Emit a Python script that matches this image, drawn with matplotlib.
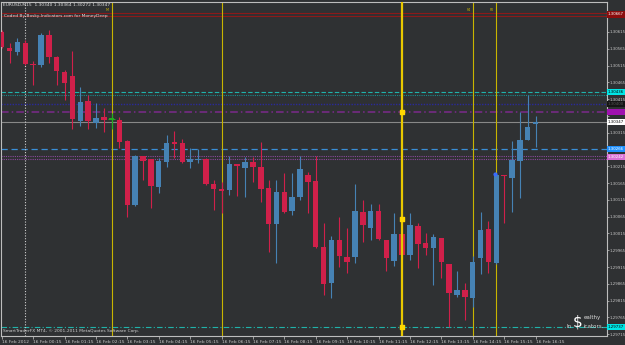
import numpy as np
import matplotlib
matplotlib.use('Agg')
import matplotlib.pyplot as plt

# EURUSD M15 bars (oldest first)
opens = [1.30615, 1.30567, 1.30555, 1.30582, 1.30520, 1.30516, 1.30606, 1.30540, 1.30497, 1.30484,
         1.30351, 1.30408, 1.30343, 1.30361, 1.30356, 1.30353, 1.30290, 1.30100, 1.30246, 1.30236,
         1.30153, 1.30229, 1.30287, 1.30285, 1.30229, 1.30233, 1.30236, 1.30162, 1.30148, 1.30145,
         1.30222, 1.30211, 1.30228, 1.30213, 1.30151, 1.30043, 1.30139, 1.30083, 1.30123, 1.30188,
         1.30171, 1.29976, 1.29869, 1.29996, 1.29946, 1.29944, 1.30080, 1.30030, 1.30083, 1.29996,
         1.29934, 1.30014, 1.29951, 1.30037, 1.29986, 1.29972, 1.30002, 1.29925, 1.29832, 1.29847,
         1.29824, 1.29941, 1.30028, 1.29928, 1.30189, 1.30179, 1.30232, 1.30293, 1.30340]
highs = [1.30621, 1.30582, 1.30597, 1.30591, 1.30529, 1.30611, 1.30621, 1.30543, 1.30502, 1.30559,
         1.30452, 1.30428, 1.30404, 1.30388, 1.30374, 1.30361, 1.30293, 1.30249, 1.30247, 1.30237,
         1.30240, 1.30308, 1.30321, 1.30295, 1.30270, 1.30266, 1.30240, 1.30174, 1.30169, 1.30246,
         1.30222, 1.30244, 1.30242, 1.30288, 1.30174, 1.30174, 1.30196, 1.30196, 1.30246, 1.30199,
         1.30246, 1.30045, 1.30008, 1.30063, 1.30030, 1.30161, 1.30115, 1.30103, 1.30103, 1.29996,
         1.30075, 1.30073, 1.30075, 1.30047, 1.30016, 1.30014, 1.30002, 1.29925, 1.29904, 1.29867,
         1.29948, 1.30080, 1.30053, 1.30192, 1.30189, 1.30291, 1.30378, 1.30427, 1.30364]
lows = [1.30567, 1.30523, 1.30546, 1.30516, 1.30457, 1.30511, 1.30523, 1.30457, 1.30412, 1.30325,
        1.30335, 1.30325, 1.30328, 1.30318, 1.30326, 1.30269, 1.30065, 1.30097, 1.30174, 1.30090,
        1.30136, 1.30214, 1.30239, 1.30225, 1.30211, 1.30224, 1.30159, 1.30085, 1.30076, 1.30130,
        1.30127, 1.30123, 1.30169, 1.30110, 1.29961, 1.29926, 1.30075, 1.30070, 1.30115, 1.30077,
        1.29972, 1.29832, 1.29822, 1.29916, 1.29897, 1.29928, 1.29991, 1.29996, 1.29996, 1.29904,
        1.29918, 1.29936, 1.29936, 1.29911, 1.29951, 1.29862, 1.29882, 1.29738, 1.29825, 1.29758,
        1.29797, 1.29895, 1.29898, 1.29924, 1.30045, 1.30080, 1.30120, 1.30293, 1.30272]
closes = [1.30570, 1.30557, 1.30585, 1.30519, 1.30516, 1.30606, 1.30539, 1.30499, 1.30464, 1.30355,
          1.30407, 1.30351, 1.30359, 1.30353, 1.30356, 1.30288, 1.30100, 1.30246, 1.30232, 1.30156,
          1.30231, 1.30285, 1.30281, 1.30228, 1.30237, 1.30237, 1.30162, 1.30147, 1.30142, 1.30222,
          1.30217, 1.30228, 1.30214, 1.30147, 1.30042, 1.30139, 1.30078, 1.30123, 1.30206, 1.30169,
          1.29976, 1.29865, 1.29996, 1.29948, 1.29930, 1.30082, 1.30040, 1.30083, 1.29998, 1.29942,
          1.30014, 1.29951, 1.30039, 1.29985, 1.29971, 1.30005, 1.29930, 1.29837, 1.29847, 1.29825,
          1.29931, 1.30025, 1.29931, 1.30189, 1.30185, 1.30234, 1.30293, 1.30333, 1.30347]

time_labels = ["16 Feb 2012", "16 Feb 00:15", "16 Feb 01:15", "16 Feb 02:15", "16 Feb 03:15",
               "16 Feb 04:15", "16 Feb 05:15", "16 Feb 06:15", "16 Feb 07:15", "16 Feb 08:15",
               "16 Feb 09:15", "16 Feb 10:15", "16 Feb 11:15", "16 Feb 12:15", "16 Feb 13:15",
               "16 Feb 14:15", "16 Feb 15:15", "16 Feb 16:15"]
price_ticks = [1.30665, 1.30615, 1.30565, 1.30515, 1.30465, 1.30415, 1.30365, 1.30315, 1.30265,
               1.30215, 1.30165, 1.30115, 1.30065, 1.30015, 1.29965, 1.29915, 1.29865, 1.29815,
               1.29765, 1.29715]
# tick labels hidden behind price boxes in the terminal
hidden_ticks = [1.30665, 1.30365, 1.30265]

# horizontal levels (price, color, style, width) and their right-side price boxes
levels = [1.30672, 1.30662, 1.30436, 1.30428, 1.30400, 1.30377, 1.30347, 1.30266, 1.30246, 1.30238, 1.29737]
level_styles = [('#8b1a1a', '-', 0.8), ('#8b1a1a', '-', 0.8), ('#20b2aa', (0, (4, 2)), 0.8),
                ('#178a8a', (0, (1, 1)), 0.8), ('#2a2a9a', (0, (1, 1)), 1.0), ('#7b2a8b', (0, (5, 2, 1, 2)), 1.1),
                ('#888888', '-', 0.8), ('#3a8fd8', (0, (5, 3)), 0.9), ('#8a4a9a', (0, (1, 1)), 0.8),
                ('#8a4a9a', (0, (1, 1)), 0.8), ('#20b2aa', (0, (5, 2, 1, 2)), 0.8)]
box_prices = [1.30667, 1.30436, 1.30400, 1.30377, 1.30347, 1.30266, 1.30242, 1.29737]
box_colors = [('#8b0d0d', 'white'), ('#00e5e5', 'black'), ('#151515', '#555555'), ('#a012b0', '#a012b0'),
              ('white', 'black'), ('#1e90ff', 'white'), ('#da70d6', 'white'), ('#00e5e5', 'black')]

# vertical markers (bar index)
thin_yellow = [14, 28, 60, 63]
thick_yellow = 51
thick_marks = [1.30378, 1.30058, 1.29737]
white_dotted = 3

bg = '#2f3133'
bull = '#4682b4'
bear = '#d0204a'

fig = plt.figure(figsize=(6.25, 3.45), dpi=100, facecolor=bg)
ax = fig.add_axes([1 / 625, 9 / 345, 605.5 / 625, 334.3 / 345], facecolor=bg)

x = np.arange(len(opens))
o = np.array(opens)
c = np.array(closes)
cols = np.where(c > o, bull, np.where(c < o, bear, '#22aa22'))

for lv, (col, ls, lw) in zip(levels, level_styles):
    ax.axhline(lv, color=col, linestyle=ls, linewidth=lw, zorder=1)

ax.axvline(white_dotted, color='#cfcfcf', linestyle=(0, (1, 1.5)), linewidth=0.8, zorder=1)
for b in thin_yellow:
    ax.axvline(b, color='#c8b400', linewidth=0.8, zorder=1)

ax.vlines(x, lows, highs, colors=cols, linewidth=0.8, zorder=2)
body = np.maximum(np.abs(c - o), 0.00003)
ax.bar(x, body, bottom=np.minimum(o, c), width=0.7, color=cols, linewidth=0, zorder=3)
doji = np.where(c == o)[0]
ax.hlines(c[doji], doji - 0.45, doji + 0.45, colors='#22aa22', linewidth=0.8, zorder=3)

ax.axvline(thick_yellow, color='#e8c800', linewidth=1.6, zorder=4)
ax.scatter([thick_yellow] * len(thick_marks), thick_marks, marker='s', s=5, color='#ffd700', zorder=5)
ax.scatter([62.8], [highs[63]], marker='o', s=4, color='#3a6cff', zorder=5)

ax.set_xlim(-0.0955, 77.04)
ax.set_ylim(1.297099, 1.307049)

ax.set_xticks(np.arange(0, len(opens), 4))
ax.set_xticklabels(time_labels, ha='left')
ax.set_yticks(price_ticks)
ax.set_yticklabels(['' if p in hidden_ticks else f'{p:.5f}' for p in price_ticks])
ax.yaxis.tick_right()
ax.tick_params(axis='both', colors='#c8c8c8', labelsize=3.2, length=2, width=0.5, pad=1)
ax.tick_params(axis='y', labelsize=2.8, length=1.5, pad=0.5)
ax.tick_params(axis='x', pad=0.8)
for s in ax.spines.values():
    s.set_color('#bdbdbd')
    s.set_linewidth(0.8)

for p, (fc, tc) in zip(box_prices, box_colors):
    ax.annotate(f'{p:.5f}', xy=(1.0, p), xycoords=('axes fraction', 'data'), xytext=(0.9, 0),
                textcoords='offset points', ha='left', va='center', fontsize=2.8, color=tc,
                bbox=dict(boxstyle='square,pad=0.3', fc=fc, ec='none'), annotation_clip=False)

fig.text(3 / 625, 1 - 5 / 345, 'EURUSD,M15  1.30340 1.30364 1.30272 1.30347', fontsize=3.2,
         color='#e0e0e0', va='center', ha='left')
fig.text(4 / 625, 1 - 16 / 345, 'Coded By Bosky-Indicators.com for MoneyDeep', fontsize=3.2,
         color='#e0e0e0', va='center', ha='left')
fig.text(3 / 625, 1 - 331 / 345, 'SmartTraderFX MT4, \u00a9 2001-2011 MetaQuotes Software Corp.',
         fontsize=3.2, color='#d0d0d0', va='center', ha='left')
fig.text(107 / 625, 1 - 10 / 345, 'M', fontsize=2.5, color='#c8b400', ha='center', va='center')
fig.text(469 / 625, 1 - 10 / 345, 'F4', fontsize=2.5, color='#c8b400', ha='center', va='center')
fig.text(492 / 625, 1 - 10 / 345, 'F0', fontsize=2.5, color='#c8b400', ha='center', va='center')

# logo
fig.text(578 / 625, 1 - 322 / 345, '$', fontsize=11, color='white', ha='center', va='center')
fig.text(584 / 625, 1 - 318 / 345, 'ealthy', fontsize=4, color='#d8d8d8', ha='left', va='center')
fig.text(572 / 625, 1 - 326 / 345, 'In', fontsize=4, color='#d8d8d8', ha='right', va='center')
fig.text(584 / 625, 1 - 326 / 345, 'icators.', fontsize=4, color='#d8d8d8', ha='left', va='center')

fig.savefig('out.png', dpi=100, facecolor=bg)
